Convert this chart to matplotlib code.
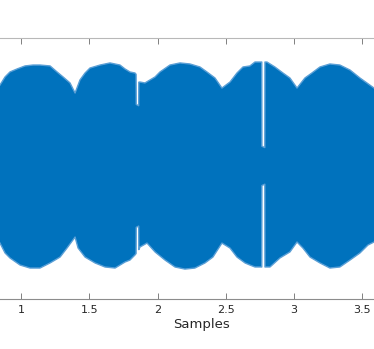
import matplotlib
matplotlib.use('Agg')
import matplotlib.pyplot as plt

plt.rcParams['font.family'] = ['DejaVu Sans']

# Upper envelope of the waveform (x in samples, x1e5)
upper_x = [0.846, 0.883, 0.919, 0.971, 1.029, 1.088, 1.139, 1.213, 1.264, 1.308,
           1.359, 1.396, 1.432, 1.469, 1.505, 1.579, 1.652, 1.725, 1.762, 1.798,
           1.835, 1.843, 1.844, 1.862, 1.863, 1.872, 1.908, 1.945, 1.982, 2.018,
           2.091, 2.165, 2.238, 2.311, 2.362, 2.421, 2.472, 2.531, 2.582, 2.626,
           2.677, 2.714, 2.764, 2.765, 2.786, 2.787, 2.802, 2.860, 2.919, 2.970,
           3.022, 3.080, 3.131, 3.190, 3.263, 3.336, 3.410, 3.483, 3.534, 3.586]
upper_y = [0.638, 0.700, 0.738, 0.761, 0.784, 0.791, 0.791, 0.784, 0.738, 0.700,
           0.654, 0.577, 0.677, 0.730, 0.768, 0.791, 0.807, 0.791, 0.761, 0.738,
           0.730, 0.720, 0.490, 0.480, 0.660, 0.661, 0.654, 0.677, 0.700, 0.738,
           0.791, 0.807, 0.799, 0.776, 0.738, 0.692, 0.615, 0.661, 0.730, 0.776,
           0.784, 0.814, 0.814, 0.170, 0.160, 0.814, 0.814, 0.776, 0.730, 0.692,
           0.615, 0.692, 0.730, 0.776, 0.799, 0.791, 0.753, 0.692, 0.654, 0.615]

# Lower envelope of the waveform
lower_x = [0.846, 0.883, 0.919, 0.993, 1.066, 1.139, 1.213, 1.286, 1.337, 1.396,
           1.418, 1.469, 1.542, 1.615, 1.689, 1.762, 1.798, 1.835, 1.843, 1.844,
           1.862, 1.863, 1.872, 1.923, 1.982, 2.055, 2.128, 2.201, 2.274, 2.348,
           2.406, 2.472, 2.531, 2.582, 2.641, 2.677, 2.714, 2.764, 2.765, 2.786,
           2.787, 2.824, 2.897, 2.970, 3.022, 3.065, 3.117, 3.190, 3.263, 3.336,
           3.410, 3.483, 3.542, 3.586]
lower_y = [-0.570, -0.646, -0.684, -0.738, -0.761, -0.761, -0.722, -0.677, -0.608, -0.524,
           -0.608, -0.677, -0.722, -0.753, -0.761, -0.715, -0.700, -0.661, -0.650, -0.450,
           -0.440, -0.620, -0.600, -0.570, -0.638, -0.700, -0.753, -0.769, -0.761, -0.722,
           -0.677, -0.570, -0.608, -0.677, -0.722, -0.738, -0.753, -0.753, -0.130, -0.120,
           -0.753, -0.753, -0.684, -0.638, -0.562, -0.608, -0.677, -0.722, -0.761, -0.753,
           -0.700, -0.646, -0.585, -0.562]

x_ticks = [1, 1.5, 2, 2.5, 3, 3.5]
x_ticklabels = ['1', '1.5', '2', '2.5', '3', '3.5']

blue = '#0072BD'
fringe = '#5a9fd6'

fig = plt.figure(figsize=(3.74, 3.49), dpi=100)
ax = fig.add_axes([0, 0.1424, 1, 0.7496])

# soft fringe along the ragged edges, then the solid body
ax.plot(upper_x, upper_y, color=fringe, lw=1.0)
ax.plot(lower_x, lower_y, color=fringe, lw=1.0)
# the two halves overlap a little so no seam shows at zero
ax.fill_between(upper_x, -0.1, upper_y, facecolor=blue, edgecolor='none', lw=0)
ax.fill_between(lower_x, lower_y, 0.1, facecolor=blue, edgecolor='none', lw=0)

ax.set_xlim(0.846, 3.586)
ax.set_ylim(-1, 1)

# Only the top and bottom of the box are in frame
ax.spines['left'].set_visible(False)
ax.spines['right'].set_visible(False)
ax.spines['top'].set_color('#b8b8b8')
ax.spines['bottom'].set_color('#8c8c8c')

ax.set_xticks(x_ticks)
ax.set_xticklabels(x_ticklabels)
ax.set_yticks([])
ax.tick_params(axis='x', direction='in', top=True, length=4, width=0.7,
               color='#808080', labelsize=8, labelcolor='#262626', pad=4)

ax.set_xlabel('Samples', fontsize=9.5, color='#262626')
ax.xaxis.set_label_coords(0.54, -0.07)

fig.savefig('out.png', dpi=100)
